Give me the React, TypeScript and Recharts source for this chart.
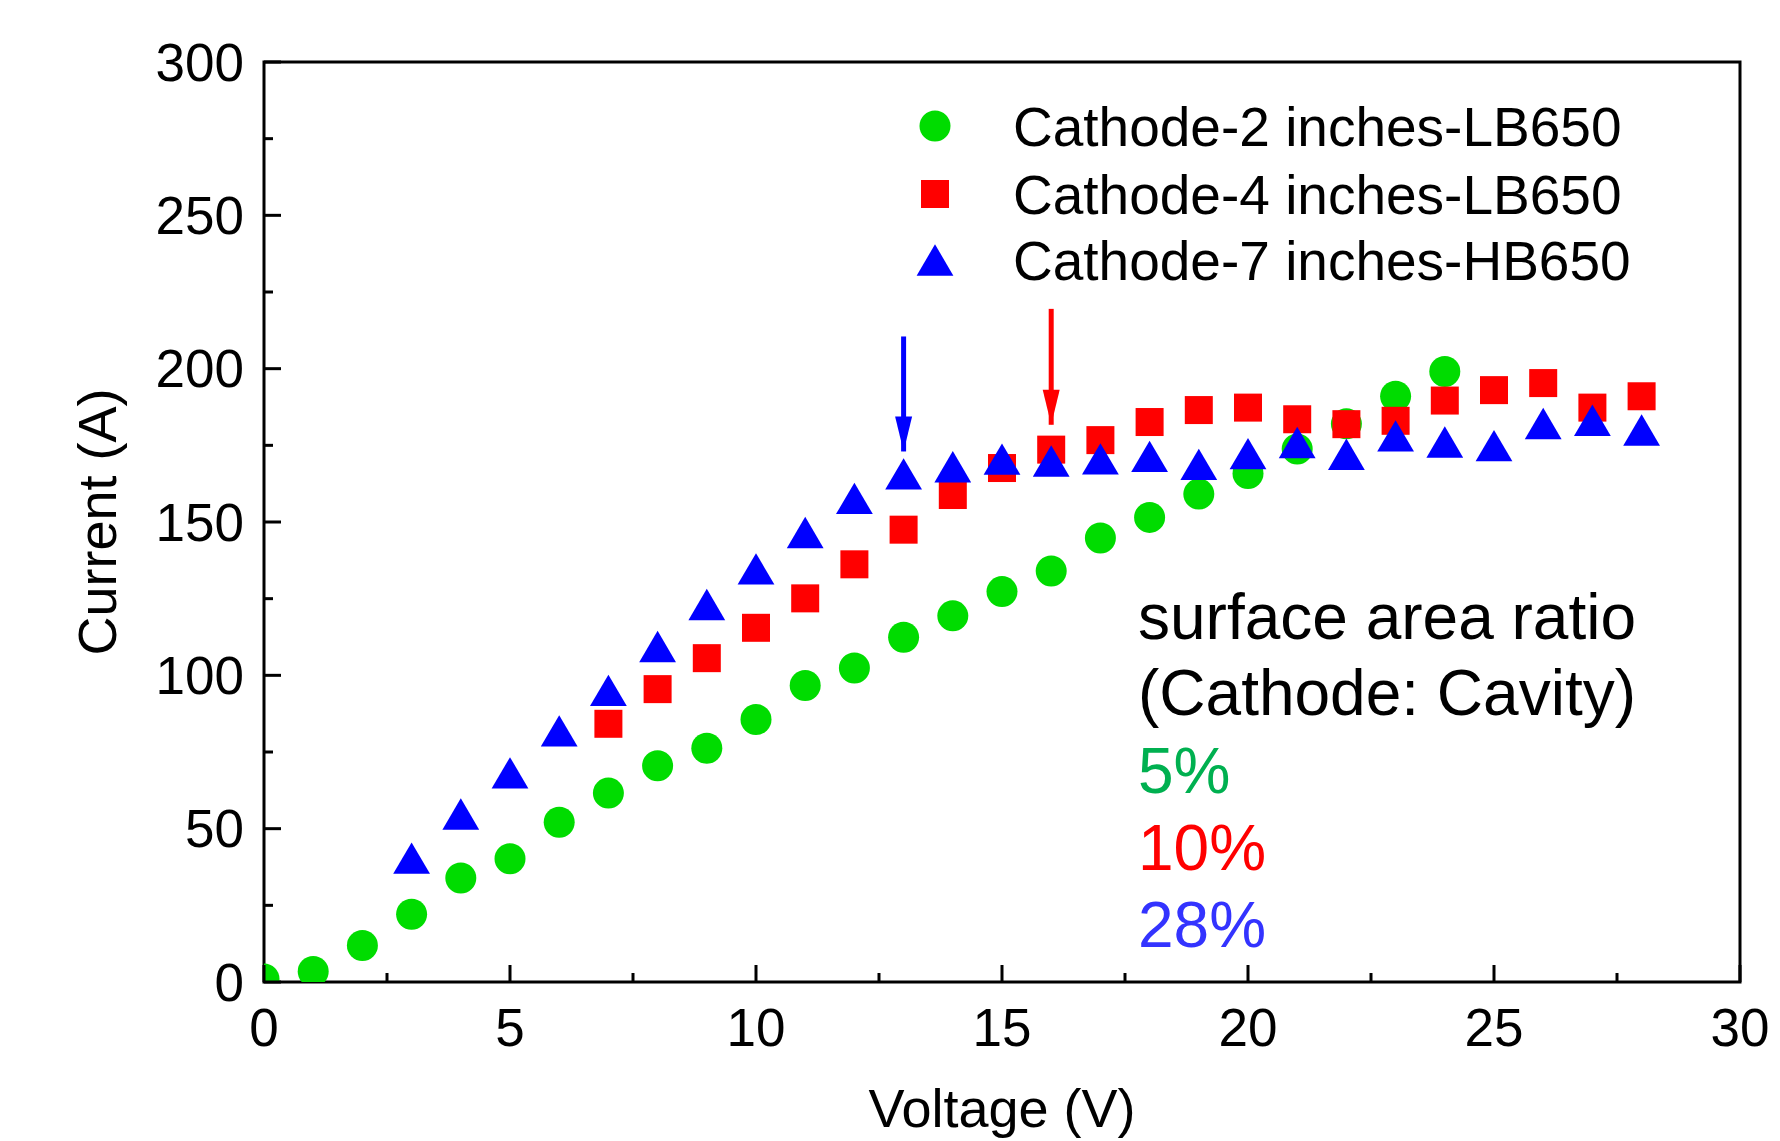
import React from 'react';
import { ScatterChart, Scatter, XAxis, YAxis, ReferenceArea } from 'recharts';

// ---- data ----
const voltageGreen = [0, 1, 2, 3, 4, 5, 6, 7, 8, 9, 10, 11, 12, 13, 14, 15, 16, 17, 18, 19, 20, 21, 22, 23, 24];
const currentGreen = [1, 3.4, 11.9, 22.1, 33.9, 40.2, 52.1, 61.6, 70.5, 76.2, 85.6, 96.7, 102.4, 112.4, 119.4, 127.3, 134, 144.8, 151.5, 159.1, 165.8, 173.8, 182, 191, 199.1];

const voltageRed = [7, 8, 9, 10, 11, 12, 13, 14, 15, 16, 17, 18, 19, 20, 21, 22, 23, 24, 25, 26, 27, 28];
const currentRed = [84.2, 95.5, 105.6, 115.5, 125.1, 136.2, 147.5, 158.8, 167.6, 173.6, 176.7, 182.6, 186.5, 187.3, 183.5, 181.9, 183, 189.6, 193, 195.3, 187.3, 191];

const voltageBlue = [3, 4, 5, 6, 7, 8, 9, 10, 11, 12, 13, 14, 15, 16, 17, 18, 19, 20, 21, 22, 23, 24, 25, 26, 27, 28];
const currentBlue = [40.4, 54.8, 68.2, 81.9, 95.1, 109.4, 123.1, 134.7, 146.6, 157.7, 165.7, 168, 170.5, 169.9, 170.6, 171.4, 168.8, 172.3, 175.9, 172.1, 178.1, 176.1, 174.9, 182.1, 183.2, 180];

const seriesNames = ['Cathode-2 inches-LB650', 'Cathode-4 inches-LB650', 'Cathode-7 inches-HB650'];

// arrows: [voltage], [top current, tip current]
const blueArrowVoltage = [13, 13];
const blueArrowCurrent = [210.5, 173];
const redArrowVoltage = [16, 16];
const redArrowCurrent = [219.5, 181.7];

const xTicks = [0, 2.5, 5, 7.5, 10, 12.5, 15, 17.5, 20, 22.5, 25, 27.5, 30];
const xMajorTicks = [0, 5, 10, 15, 20, 25, 30];
const yTicks = [0, 25, 50, 75, 100, 125, 150, 175, 200, 225, 250, 275, 300];
const yMajorTicks = [0, 50, 100, 150, 200, 250, 300];

const annotationTitle = ['surface area ratio', '(Cathode: Cavity)'];
const ratioLabels = ['5%', '10%', '28%'];

// ---- styles ----
const FONT = '"Liberation Sans", Arial, sans-serif';
const GREEN = '#00DC00';
const RED = '#FF0000';
const BLUE = '#0000FF';
const RATIO_COLORS = ['#00B050', '#FF0000', '#3333FF'];

const W = 1780;
const H = 1141;
const M_TOP = 62;
const M_RIGHT = 40;
const Y_AXIS_W = 264;
const X_AXIS_H = 159;

const toPoints = (xs: number[], ys: number[]) => xs.map((x, i) => ({ x, y: ys[i] }));
const greenData = toPoints(voltageGreen, currentGreen);
const redData = toPoints(voltageRed, currentRed);
const blueData = toPoints(voltageBlue, currentBlue);
const blueArrow = toPoints(blueArrowVoltage, blueArrowCurrent);
const redArrow = toPoints(redArrowVoltage, redArrowCurrent);

const CircleShape = (p: any) => <circle cx={p.cx} cy={p.cy} r={15.5} fill={GREEN} />;
const SquareShape = (p: any) => <rect x={p.cx - 14} y={p.cy - 14} width={28} height={28} fill={RED} />;
const TriangleShape = (p: any) => (
  <polygon
    points={`${p.cx},${p.cy - 15.7} ${p.cx - 18.4},${p.cy + 15.7} ${p.cx + 18.4},${p.cy + 15.7}`}
    fill={BLUE}
  />
);
const makeArrowHead = (color: string) => (p: any) => {
  if (p.index !== 1) return <g />;
  return (
    <polygon
      points={`${p.cx - 8.5},${p.cy - 35} ${p.cx + 8.5},${p.cy - 35} ${p.cx},${p.cy}`}
      fill={color}
    />
  );
};

const XTick = (p: any) => {
  const v = p.payload.value;
  const major = xMajorTicks.includes(v);
  const axisY = p.y - 26;
  return (
    <g>
      <line x1={p.x} x2={p.x} y1={axisY} y2={axisY - (major ? 17 : 9)} stroke="#000" strokeWidth={3} />
      {major && (
        <text x={p.x} y={p.y} dy="0.71em" textAnchor="middle" fontSize={53} fontFamily={FONT} fill="#000">
          {String(v)}
        </text>
      )}
    </g>
  );
};

const YTick = (p: any) => {
  const v = p.payload.value;
  const major = yMajorTicks.includes(v);
  const axisX = p.x + 20;
  return (
    <g>
      <line x1={axisX} x2={axisX + (major ? 17 : 9)} y1={p.y} y2={p.y} stroke="#000" strokeWidth={3} />
      {major && (
        <text x={p.x} y={p.y} dy="0.355em" textAnchor="end" fontSize={53} fontFamily={FONT} fill="#000">
          {String(v)}
        </text>
      )}
    </g>
  );
};

const legendShapes = [CircleShape, SquareShape, TriangleShape];
const LEG_X = 935;
const LEG_TEXT_X = 1013;
const LEG_Y = [126, 194, 260];

const Overlay = () => (
  <g fontFamily={FONT}>
    {seriesNames.map((name, i) => {
      const S = legendShapes[i];
      return (
        <g key={name}>
          <S cx={LEG_X} cy={LEG_Y[i]} />
          <text x={LEG_TEXT_X} y={LEG_Y[i] + 20} fontSize={55} fill="#000">{name}</text>
        </g>
      );
    })}
    {annotationTitle.map((t, i) => (
      <text key={t} x={1138} y={[639, 715][i]} fontSize={64} fill="#000">{t}</text>
    ))}
    {ratioLabels.map((t, i) => (
      <text key={t} x={1138} y={[793, 870, 947][i]} fontSize={64} fill={RATIO_COLORS[i]}>{t}</text>
    ))}
    <text
      x={116}
      y={522}
      transform="rotate(-90 116 522)"
      textAnchor="middle"
      fontSize={54}
      fill="#000"
    >
      Current (A)
    </text>
    <text x={1002} y={1127} textAnchor="middle" fontSize={54} fill="#000">Voltage (V)</text>
  </g>
);

export default function App() {
  return (
    <div style={{ position: 'absolute', left: 0, top: 0, width: W, height: H, background: '#fff' }}>
      <ScatterChart width={W} height={H} margin={{ top: M_TOP, right: M_RIGHT, left: 0, bottom: 0 }}>
        <XAxis
          type="number"
          dataKey="x"
          domain={[0, 30]}
          ticks={xTicks}
          interval={0}
          allowDataOverflow
          height={X_AXIS_H}
          axisLine={false}
          tickLine={false}
          tickSize={0}
          tickMargin={26}
          tick={<XTick />}
        />
        <YAxis
          type="number"
          dataKey="y"
          domain={[0, 300]}
          ticks={yTicks}
          interval={0}
          allowDataOverflow
          width={Y_AXIS_W}
          axisLine={false}
          tickLine={false}
          tickSize={0}
          tickMargin={20}
          tick={<YTick />}
        />
        <ReferenceArea x1={0} x2={30} y1={0} y2={300} fill="none" stroke="#000" strokeWidth={3} ifOverflow="visible" />
        <Scatter name={seriesNames[0]} data={greenData} shape={CircleShape} isAnimationActive={false} />
        <Scatter name={seriesNames[1]} data={redData} shape={SquareShape} isAnimationActive={false} />
        <Scatter name={seriesNames[2]} data={blueData} shape={TriangleShape} isAnimationActive={false} />
        <Scatter
          data={blueArrow}
          line={{ stroke: BLUE, strokeWidth: 5 }}
          lineType="joint"
          shape={makeArrowHead(BLUE)}
          isAnimationActive={false}
        />
        <Scatter
          data={redArrow}
          line={{ stroke: RED, strokeWidth: 5 }}
          lineType="joint"
          shape={makeArrowHead(RED)}
          isAnimationActive={false}
        />
        <Overlay />
      </ScatterChart>
    </div>
  );
}
